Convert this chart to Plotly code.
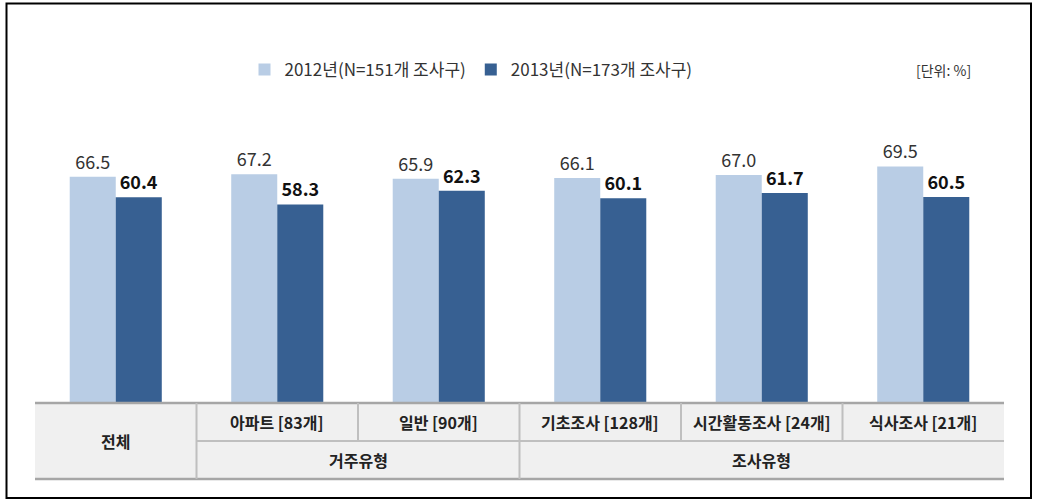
import plotly.graph_objects as go

categories = ["전체", "아파트 [83개]", "일반 [90개]", "기초조사 [128개]", "시간활동조사 [24개]", "식사조사 [21개]"]
series_names = ["2012년(N=151개 조사구)", "2013년(N=173개 조사구)"]
values_2012 = [66.5, 67.2, 65.9, 66.1, 67.0, 69.5]
values_2013 = [60.4, 58.3, 62.3, 60.1, 61.7, 60.5]
group_labels = ["거주유형", "조사유형"]

FONT = "Noto Sans CJK KR"
W, H = 1039, 503
ML, MR, MT, MB = 35, 35, 97, 101
PH = H - MT - MB
PW = W - ML - MR

def py(y):  # pixel y -> paper y
    return (H - MB - y) / PH

def px(x):  # pixel x -> paper x
    return (x - ML) / PW

xs = list(range(len(categories)))

fig = go.Figure()
fig.add_trace(go.Bar(
    x=xs, y=values_2012, name=series_names[0],
    marker=dict(color="#b9cde5", line=dict(width=0)),
    text=[f"{v:.1f}" for v in values_2012], textposition="outside",
    textfont=dict(family=FONT, size=18, color="#333333"), cliponaxis=False,
))
fig.add_trace(go.Bar(
    x=xs, y=values_2013, name=series_names[1],
    marker=dict(color="#376092", line=dict(width=0)),
    text=[f"<b>{v:.1f}</b>" for v in values_2013], textposition="outside",
    textfont=dict(family=FONT, size=18, color="#111111"), cliponaxis=False,
))

shapes = []
shapes.append(dict(type="rect", xref="paper", yref="paper", x0=0, x1=1, y0=py(479), y1=py(403),
                   fillcolor="#f0f0f0", line=dict(width=0), layer="below"))
for yy in (403, 479):
    shapes.append(dict(type="line", xref="paper", yref="paper", x0=0, x1=1, y0=py(yy), y1=py(yy),
                       line=dict(color="#a6a6a6", width=2.5)))
shapes.append(dict(type="line", xref="x", yref="paper", x0=0.5, x1=5.5, y0=py(441), y1=py(441),
                   line=dict(color="#bfbfbf", width=2)))
for xv, full in [(0.5, True), (1.5, False), (2.5, True), (3.5, False), (4.5, False)]:
    shapes.append(dict(type="line", xref="x", yref="paper", x0=xv, x1=xv,
                       y0=py(479 if full else 441), y1=py(403),
                       line=dict(color="#bfbfbf", width=2)))
shapes.append(dict(type="rect", xref="paper", yref="paper", x0=px(6.5), x1=px(1031), y0=py(498), y1=py(3.5),
                   line=dict(color="#000000", width=2), fillcolor="rgba(0,0,0,0)"))

annotations = []
tf = dict(family=FONT, size=16, color="#222222")
annotations.append(dict(x=0, y=py(441), xref="x", yref="paper", text=f"<b>{categories[0]}</b>",
                        showarrow=False, font=tf, xanchor="center", yanchor="middle"))
for i in range(1, len(categories)):
    annotations.append(dict(x=i, y=py(422), xref="x", yref="paper", text=f"<b>{categories[i]}</b>",
                            showarrow=False, font=tf, xanchor="center", yanchor="middle"))
annotations.append(dict(x=1.5, y=py(460), xref="x", yref="paper", text=f"<b>{group_labels[0]}</b>",
                        showarrow=False, font=tf, xanchor="center", yanchor="middle"))
annotations.append(dict(x=4.0, y=py(460), xref="x", yref="paper", text=f"<b>{group_labels[1]}</b>",
                        showarrow=False, font=tf, xanchor="center", yanchor="middle"))
annotations.append(dict(x=px(943), y=py(70), xref="paper", yref="paper", text="[단위: %]",
                        showarrow=False, font=dict(family=FONT, size=14, color="#333333"),
                        xanchor="center", yanchor="middle"))

fig.update_layout(
    width=W, height=H,
    margin=dict(l=ML, r=MR, t=MT, b=MB),
    paper_bgcolor="white", plot_bgcolor="white",
    barmode="group", bargap=0.43, bargroupgap=0,
    xaxis=dict(range=[-0.5, 5.5], showticklabels=False, showgrid=False, zeroline=False,
               showline=False, ticks=""),
    yaxis=dict(range=[0, 90], visible=False),
    showlegend=True,
    legend=dict(orientation="h", x=px(471), xanchor="center", y=py(70), yanchor="middle",
                font=dict(family=FONT, size=17, color="#333333"), itemwidth=30,
                bgcolor="rgba(0,0,0,0)"),
    shapes=shapes, annotations=annotations,
    font=dict(family=FONT),
)

fig.write_html("out.html")
